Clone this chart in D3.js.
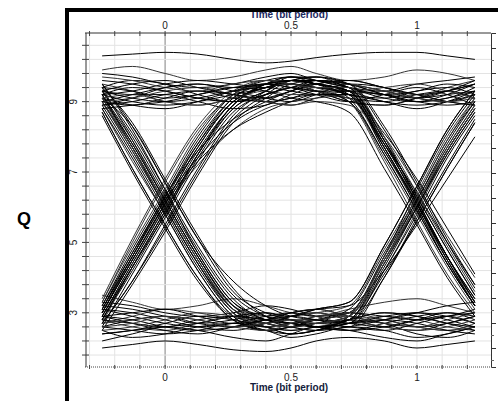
<!DOCTYPE html>
<html>
<head>
<meta charset="utf-8">
<script src="https://cdn.jsdelivr.net/npm/d3@7"></script>
<style>
  body { margin: 0; background: #fff; }
  svg { display: block; font-family: "Liberation Sans", Arial, sans-serif; }
</style>
</head>
<body>
<svg id="chart" width="498" height="401"></svg>
<script>
// sample times (bit periods) shared by every trace
var times = [-0.25, -0.13, 0, 0.13, 0.27, 0.4, 0.5, 0.6, 0.73, 0.87, 1.0, 1.12, 1.23];

// stays high
var highTraces = [
    [10.3, 10.35, 10.4, 10.35, 10.2, 10.1, 10.15, 10.25, 10.35, 10.4, 10.4, 10.3, 10.2],
    [9.2, 9.4, 9.3, 9.1, 9.0, 9.2, 9.4, 9.3, 9.1, 9.0, 9.2, 9.3, 9.1],
    [9.0, 8.9, 9.1, 9.3, 9.2, 9.0, 8.9, 9.1, 9.3, 9.2, 9.0, 8.9, 9.0],
    [9.5, 9.3, 9.0, 8.9, 9.1, 9.4, 9.5, 9.3, 9.0, 8.9, 9.1, 9.4, 9.6],
    [8.9, 9.1, 9.4, 9.5, 9.3, 9.1, 9.0, 9.2, 9.5, 9.4, 9.1, 9.0, 9.2],
    [9.8, 9.7, 9.5, 9.4, 9.5, 9.7, 9.8, 9.6, 9.4, 9.3, 9.5, 9.6, 9.7],
    [9.3, 9.2, 9.2, 9.0, 8.8, 8.9, 9.2, 9.4, 9.2, 9.0, 8.8, 9.0, 9.3],
    [9.9, 10.0, 9.8, 9.6, 9.7, 9.9, 10.0, 9.8, 9.6, 9.7, 9.9, 9.8, 9.6],
    [9.1, 8.9, 8.8, 9.0, 9.3, 9.5, 9.4, 9.2, 9.0, 9.2, 9.4, 9.2, 8.9],
    [9.4, 9.6, 9.5, 9.2, 9.0, 9.1, 9.3, 9.5, 9.6, 9.4, 9.2, 9.3, 9.5],
    [9.2, 9.3, 9.5, 9.6, 9.5, 9.4, 9.6, 9.7, 9.5, 9.2, 9.0, 9.1, 9.3]
];

// stays low
var lowTraces = [
    [2.8, 2.6, 2.5, 2.7, 2.9, 2.8, 2.6, 2.5, 2.7, 2.9, 2.8, 2.6, 2.5],
    [2.4, 2.5, 2.7, 2.9, 2.8, 2.6, 2.4, 2.5, 2.8, 3.0, 2.9, 2.7, 2.5],
    [3.1, 3.0, 2.8, 2.6, 2.5, 2.7, 2.9, 3.0, 2.8, 2.6, 2.5, 2.7, 2.9],
    [2.0, 2.1, 2.2, 2.1, 1.95, 1.9, 2.0, 2.2, 2.3, 2.2, 2.0, 2.1, 2.2],
    [2.7, 2.9, 3.1, 3.0, 2.8, 2.6, 2.7, 2.9, 3.0, 2.8, 2.6, 2.5, 2.7],
    [3.3, 3.2, 3.0, 2.9, 3.0, 3.2, 3.1, 2.9, 2.7, 2.8, 3.0, 3.2, 3.3],
    [2.5, 2.3, 2.4, 2.6, 2.7, 2.5, 2.3, 2.4, 2.6, 2.5, 2.3, 2.4, 2.6],
    [2.2, 2.4, 2.6, 2.5, 2.3, 2.2, 2.4, 2.6, 2.5, 2.3, 2.2, 2.4, 2.6],
    [3.5, 3.3, 3.1, 3.2, 3.4, 3.2, 3.0, 2.9, 3.1, 3.3, 3.4, 3.2, 3.0],
    [2.9, 2.7, 2.5, 2.4, 2.6, 2.8, 3.0, 3.1, 2.9, 2.7, 2.4, 2.3, 2.5],
    [2.6, 2.8, 2.9, 2.7, 2.6, 2.7, 2.8, 2.6, 2.5, 2.6, 2.8, 2.9, 2.7]
];

// falls at 0, stays low
var fallTraces = [
    [9.0, 7.7, 6.1, 4.5, 3.1, 2.7, 2.6, 2.7, 2.8, 2.7, 2.6, 2.7, 2.9],
    [8.8, 7.3, 5.8, 4.2, 2.9, 2.5, 2.6, 2.8, 2.9, 2.8, 2.6, 2.5, 2.6],
    [9.3, 8.0, 6.4, 4.8, 3.4, 2.8, 2.7, 2.6, 2.5, 2.7, 2.9, 3.0, 2.8],
    [9.1, 8.3, 6.7, 5.1, 3.9, 3.2, 2.9, 2.8, 2.7, 2.9, 3.0, 2.9, 2.7],
    [8.9, 7.5, 5.9, 4.3, 3.0, 2.6, 2.4, 2.5, 2.7, 2.8, 2.7, 2.5, 2.4],
    [9.4, 7.9, 6.2, 4.6, 3.2, 2.9, 3.0, 3.1, 2.9, 2.7, 2.6, 2.8, 3.0],
    [9.4, 8.4, 6.8, 5.2, 3.7, 2.9, 2.7, 2.8, 3.0, 2.9, 2.8, 2.9, 3.1],
    [8.6, 7.0, 5.4, 3.9, 2.8, 2.5, 2.6, 2.7, 2.6, 2.5, 2.7, 2.9, 3.0],
    [9.5, 8.2, 6.5, 4.7, 3.3, 2.8, 2.6, 2.5, 2.6, 2.8, 3.0, 2.8, 2.6],
    [8.7, 7.1, 5.5, 4.0, 2.9, 2.7, 2.9, 3.0, 2.8, 2.6, 2.5, 2.6, 2.8],
    [9.2, 7.8, 6.2, 4.6, 3.2, 2.8, 2.7, 2.8, 2.7, 2.6, 2.8, 3.0, 2.9],
    [9.0, 7.6, 6.0, 4.4, 3.0, 2.6, 2.7, 2.6, 2.8, 3.0, 2.9, 2.7, 2.6]
];

// falls at 0, rises at 1
var fallRiseTraces = [
    [9.1, 7.8, 6.2, 4.6, 3.2, 2.7, 2.6, 2.7, 2.9, 4.4, 6.1, 7.6, 8.8],
    [9.0, 7.6, 6.0, 4.4, 3.0, 2.6, 2.5, 2.6, 2.8, 4.2, 5.9, 7.5, 8.7],
    [9.2, 7.9, 6.3, 4.7, 3.3, 2.9, 2.8, 2.8, 3.1, 4.7, 6.3, 7.9, 9.0],
    [8.8, 7.4, 5.8, 4.2, 2.9, 2.5, 2.6, 2.8, 3.0, 4.5, 6.2, 7.7, 8.9],
    [9.3, 8.1, 6.5, 4.9, 3.5, 2.9, 2.7, 2.6, 2.7, 4.0, 5.7, 7.2, 8.5],
    [9.0, 7.7, 6.1, 4.5, 3.1, 2.8, 2.9, 3.0, 3.2, 4.8, 6.4, 8.0, 9.1],
    [9.5, 8.3, 6.7, 5.1, 3.6, 3.0, 2.8, 2.7, 2.8, 4.1, 5.6, 7.1, 8.4],
    [8.7, 7.1, 5.5, 4.0, 2.8, 2.5, 2.4, 2.5, 2.9, 4.6, 6.5, 8.1, 9.2],
    [9.2, 7.7, 6.0, 4.4, 3.1, 2.7, 2.9, 3.1, 3.3, 4.9, 6.6, 8.2, 9.3],
    [9.1, 7.7, 6.1, 4.5, 3.1, 2.6, 2.7, 2.8, 3.0, 4.5, 6.0, 7.6, 8.8]
];

// rises at 0, stays high
var riseTraces = [
    [3.0, 4.5, 6.1, 7.7, 9.0, 9.4, 9.5, 9.4, 9.3, 9.2, 9.1, 9.2, 9.3],
    [2.8, 4.3, 5.9, 7.5, 8.8, 9.3, 9.6, 9.5, 9.3, 9.0, 8.9, 9.0, 9.2],
    [3.2, 4.8, 6.4, 8.0, 9.2, 9.6, 9.7, 9.5, 9.2, 9.1, 9.3, 9.4, 9.2],
    [2.9, 4.4, 6.0, 7.2, 8.2, 8.8, 9.0, 9.1, 9.2, 9.3, 9.2, 9.0, 8.9],
    [2.6, 4.1, 5.7, 7.3, 8.7, 9.2, 9.4, 9.6, 9.5, 9.2, 9.0, 9.1, 9.4],
    [3.1, 4.6, 6.2, 7.8, 9.1, 9.5, 9.5, 9.3, 9.0, 8.9, 9.1, 9.3, 9.5],
    [2.7, 3.9, 5.4, 7.0, 8.5, 9.2, 9.6, 9.7, 9.4, 9.1, 9.0, 9.2, 9.5],
    [3.4, 5.1, 6.8, 8.3, 9.3, 9.6, 9.5, 9.4, 9.3, 9.4, 9.5, 9.3, 9.1],
    [3.0, 4.6, 6.3, 7.6, 8.5, 9.0, 9.3, 9.5, 9.6, 9.4, 9.2, 9.0, 8.9],
    [2.5, 3.8, 5.3, 6.9, 8.4, 9.1, 9.5, 9.6, 9.5, 9.3, 9.1, 9.3, 9.6],
    [2.9, 4.3, 5.8, 7.5, 8.9, 9.5, 9.7, 9.6, 9.4, 9.2, 9.3, 9.5, 9.4],
    [3.3, 4.9, 6.5, 8.1, 9.2, 9.5, 9.6, 9.6, 9.5, 9.3, 9.1, 9.0, 9.1]
];

// rises at 0, falls at 1
var riseFallTraces = [
    [3.0, 4.5, 6.1, 7.7, 9.0, 9.4, 9.5, 9.4, 9.2, 7.7, 6.1, 4.6, 3.4],
    [2.8, 4.2, 5.8, 7.4, 8.8, 9.3, 9.6, 9.5, 9.1, 7.5, 5.9, 4.4, 3.2],
    [3.2, 4.7, 6.3, 7.9, 9.1, 9.5, 9.6, 9.5, 9.3, 7.9, 6.3, 4.8, 3.5],
    [2.7, 4.3, 5.9, 7.5, 8.9, 9.4, 9.5, 9.3, 9.0, 7.4, 5.8, 4.3, 3.1],
    [3.1, 4.6, 6.2, 7.4, 8.4, 8.9, 9.1, 9.2, 9.1, 7.8, 6.4, 5.0, 3.8],
    [2.9, 4.4, 6.0, 7.6, 8.9, 9.5, 9.7, 9.6, 9.4, 8.0, 6.2, 4.6, 3.3],
    [2.7, 3.9, 5.5, 7.1, 8.6, 9.3, 9.7, 9.7, 9.5, 8.2, 6.6, 5.0, 3.7],
    [3.3, 5.0, 6.7, 8.2, 9.2, 9.6, 9.6, 9.4, 9.0, 7.3, 5.6, 4.1, 3.0],
    [3.0, 4.5, 6.1, 7.3, 8.2, 8.7, 9.0, 9.2, 9.2, 8.1, 6.8, 5.4, 4.1],
    [2.8, 4.3, 5.9, 7.5, 8.9, 9.5, 9.6, 9.5, 9.3, 7.8, 6.2, 4.6, 3.3],
    [3.1, 4.7, 6.3, 7.8, 9.0, 9.4, 9.6, 9.6, 9.4, 7.9, 6.1, 4.5, 3.2]
];

// high, falls at 1
var lateFallTraces = [
    [9.1, 9.2, 9.0, 8.9, 9.1, 9.3, 9.2, 9.2, 9.1, 7.6, 6.0, 4.5, 3.3],
    [9.4, 9.3, 9.1, 9.2, 9.4, 9.5, 9.4, 9.3, 9.3, 7.9, 6.3, 4.8, 3.5],
    [8.9, 9.0, 9.2, 9.3, 9.1, 9.0, 9.1, 9.3, 9.0, 7.5, 5.9, 4.4, 3.2],
    [9.6, 9.5, 9.3, 9.1, 9.0, 9.2, 9.4, 9.5, 9.2, 7.7, 6.1, 4.6, 3.4],
    [9.0, 9.1, 9.3, 9.4, 9.2, 9.0, 8.9, 9.0, 8.9, 8.0, 6.6, 5.2, 4.0],
    [9.2, 9.0, 8.9, 9.0, 9.2, 9.4, 9.6, 9.5, 9.3, 7.8, 6.2, 4.6, 3.3],
    [9.3, 9.5, 9.6, 9.4, 9.2, 9.1, 9.3, 9.6, 9.5, 8.3, 6.7, 5.1, 3.8],
    [8.8, 8.9, 9.0, 9.2, 9.4, 9.3, 9.1, 9.0, 8.7, 7.1, 5.5, 4.0, 2.9],
    [9.7, 9.6, 9.4, 9.3, 9.5, 9.6, 9.5, 9.4, 9.4, 8.0, 6.4, 4.9, 3.6],
    [9.0, 9.2, 9.4, 9.5, 9.4, 9.5, 9.6, 9.5, 9.3, 7.7, 6.0, 4.4, 3.2],
    [9.3, 9.1, 9.0, 9.1, 9.3, 9.4, 9.3, 9.2, 9.2, 7.6, 6.1, 4.5, 3.2]
];

// low, rises at 1
var lateRiseTraces = [
    [2.8, 2.7, 2.6, 2.8, 2.9, 2.8, 2.7, 2.6, 2.8, 4.3, 6.0, 7.5, 8.7],
    [2.5, 2.6, 2.8, 3.0, 2.9, 2.7, 2.6, 2.7, 2.9, 4.5, 6.1, 7.7, 8.9],
    [3.1, 2.9, 2.7, 2.6, 2.7, 2.9, 3.0, 2.9, 3.0, 4.6, 6.2, 7.8, 9.0],
    [2.6, 2.5, 2.4, 2.5, 2.7, 2.6, 2.5, 2.6, 2.7, 4.2, 5.8, 7.4, 8.6],
    [2.9, 3.0, 3.1, 2.9, 2.7, 2.8, 3.0, 3.1, 3.2, 4.2, 5.5, 6.8, 8.0],
    [2.7, 2.8, 2.9, 2.8, 2.6, 2.5, 2.7, 2.9, 3.0, 4.6, 6.3, 7.9, 9.1],
    [2.9, 2.8, 2.6, 2.5, 2.6, 2.8, 2.9, 2.8, 2.6, 4.0, 5.6, 7.1, 8.4],
    [2.4, 2.5, 2.6, 2.7, 2.9, 3.0, 2.9, 3.1, 3.3, 4.9, 6.6, 8.2, 9.3],
    [3.2, 3.1, 2.9, 2.7, 2.8, 3.0, 2.8, 2.6, 2.8, 4.4, 6.0, 7.6, 8.8],
    [2.6, 2.7, 2.9, 2.8, 2.6, 2.7, 2.8, 2.7, 2.9, 4.4, 6.1, 7.6, 8.8]
];

var xLabelTicks = [0, 0.5, 1];
var yLabelTicks = [3, 5, 7, 9];
var axisTitle = 'Time (bit period)';
var yTitle = 'Q';

var svg = d3.select('#chart'),
    plotLeft = 85, plotRight = 491, plotTop = 33, plotBottom = 367;

var x = d3.scaleLinear().domain([-0.318, 1.294]).range([plotLeft, plotRight]),
    y = d3.scaleLinear().domain([1.46, 10.95]).range([plotBottom, plotTop]),
    yRight = d3.scaleLinear().domain([-0.76, 12.6]).range([plotBottom, plotTop]);

var xTicks = d3.range(-3, 13).map(function (i) { return i / 10; }),
    yTicks = d3.range(0, 23).map(function (i) { return +(1.8 + i * 0.4).toFixed(1); });

// grid
var grid = svg.append('g');
grid.selectAll('.vg').data(xTicks).enter().append('line')
    .attr('x1', function (d) { return x(d); }).attr('x2', function (d) { return x(d); })
    .attr('y1', plotTop).attr('y2', plotBottom)
    .style('stroke', function (d) { return d === 0 ? '#808080' : '#e3e3e3'; })
    .style('stroke-width', 1);
grid.selectAll('.hg').data(yTicks).enter().append('line')
    .attr('x1', plotLeft).attr('x2', plotRight)
    .attr('y1', function (d) { return y(d); }).attr('y2', function (d) { return y(d); })
    .style('stroke', '#e3e3e3')
    .style('stroke-width', 1);

// traces
svg.append('clipPath').attr('id', 'plotclip')
  .append('rect').attr('x', plotLeft).attr('y', plotTop)
    .attr('width', plotRight - plotLeft).attr('height', plotBottom - plotTop);

var line = d3.line()
    .x(function (d, i) { return x(times[i]); })
    .y(function (d) { return y(d); })
    .curve(d3.curveMonotoneX);

var traces = [].concat(highTraces, lowTraces, fallTraces, fallRiseTraces,
    riseTraces, riseFallTraces, lateFallTraces, lateRiseTraces);

svg.append('g').attr('clip-path', 'url(#plotclip)')
    .selectAll('path').data(traces).enter().append('path')
    .attr('d', line)
    .style('fill', 'none')
    .style('stroke', function (d, i) { return i % 4 === 3 ? '#333' : '#000'; })
    .style('stroke-width', 1);

// top axis
var topAxis = svg.append('g').attr('transform', 'translate(0,' + plotTop + ')');
topAxis.append('line').attr('x1', plotLeft).attr('x2', plotRight).style('stroke', '#333');
topAxis.selectAll('.tk').data(xTicks).enter().append('line')
    .attr('x1', function (d) { return x(d); }).attr('x2', function (d) { return x(d); })
    .attr('y1', -2).attr('y2', 3).style('stroke', '#444');
topAxis.selectAll('.lb').data(xLabelTicks).enter().append('text')
    .attr('x', function (d) { return x(d); }).attr('y', -4)
    .attr('text-anchor', 'middle').style('font-size', '10px').style('fill', '#222')
    .text(function (d) { return d; });

// bottom axis (dotted)
var botAxis = svg.append('g').attr('transform', 'translate(0,' + plotBottom + ')');
botAxis.append('line').attr('x1', plotLeft).attr('x2', plotRight)
    .style('stroke', '#444').style('stroke-dasharray', '1,1');
botAxis.selectAll('.tk').data(xTicks).enter().append('line')
    .attr('x1', function (d) { return x(d); }).attr('x2', function (d) { return x(d); })
    .attr('y1', -2).attr('y2', 2).style('stroke', '#444');
botAxis.selectAll('.lb').data(xLabelTicks).enter().append('text')
    .attr('x', function (d) { return x(d); }).attr('y', 14)
    .attr('text-anchor', 'middle').style('font-size', '10px').style('fill', '#222')
    .text(function (d) { return d; });

// left axis
var leftAxis = svg.append('g').attr('transform', 'translate(' + (plotLeft + 1) + ',0)');
leftAxis.append('line').attr('y1', plotTop).attr('y2', plotBottom).style('stroke', '#333');
leftAxis.selectAll('.tk').data(yTicks).enter().append('line')
    .attr('y1', function (d) { return y(d); }).attr('y2', function (d) { return y(d); })
    .attr('x1', -4).attr('x2', 3).style('stroke', '#444');
leftAxis.selectAll('.lb').data(yLabelTicks).enter().append('text')
    .attr('transform', function (d) { return 'translate(-9,' + y(d) + ') rotate(-90)'; })
    .attr('text-anchor', 'middle').style('font-size', '10px').style('fill', '#222')
    .text(function (d) { return d; });

// right axis, ticks only
var rightAxis = svg.append('g').attr('transform', 'translate(' + plotRight + ',0)')
    .call(d3.axisRight(yRight).tickValues(d3.range(0, 13)).tickSize(5).tickFormat(''));
rightAxis.select('.domain').style('stroke', '#333');
rightAxis.selectAll('.tick line').style('stroke', '#333');
rightAxis.selectAll('.mn').data(d3.range(0, 13).map(function (i) { return i - 0.5; })).enter().append('line')
    .attr('y1', function (d) { return yRight(d); }).attr('y2', function (d) { return yRight(d); })
    .attr('x1', 0).attr('x2', 3).style('stroke', '#666');

// titles
svg.append('text').attr('x', 289).attr('y', 18).attr('text-anchor', 'middle')
    .style('font-size', '10px').style('font-weight', 'bold').style('fill', '#1b2860')
    .text(axisTitle);
svg.append('text').attr('x', 289).attr('y', 391).attr('text-anchor', 'middle')
    .style('font-size', '10px').style('font-weight', 'bold').style('fill', '#141c3c')
    .text(axisTitle);
svg.append('text').attr('x', 24).attr('y', 225).attr('text-anchor', 'middle')
    .style('font-size', '18px').style('font-weight', 'bold').style('fill', '#000')
    .text(yTitle);

// heavy frame bars
svg.append('rect').attr('x', 65).attr('y', 8).attr('width', 433).attr('height', 4).style('fill', '#000');
svg.append('rect').attr('x', 65).attr('y', 8).attr('width', 4).attr('height', 393).style('fill', '#000');
</script>
</body>
</html>
